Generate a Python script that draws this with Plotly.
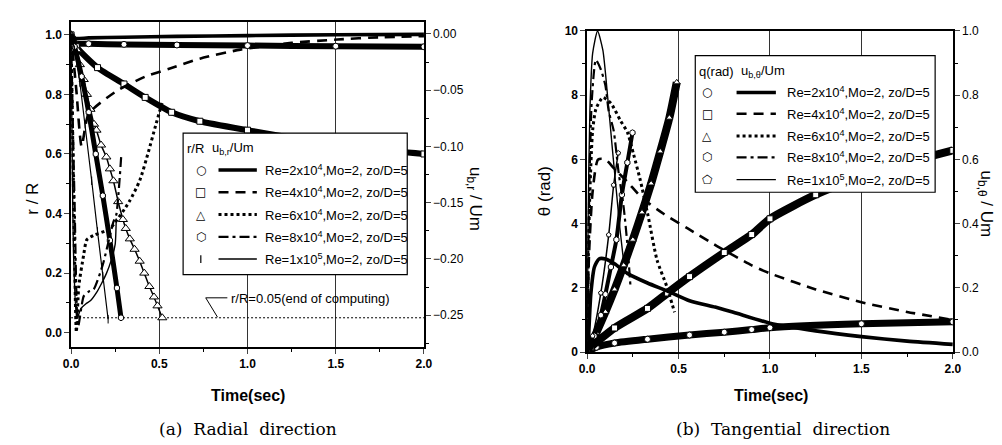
import plotly.graph_objects as go

W, H = 1002, 445

# ---------------- (a) Radial direction: r/R (left axis, markers) ----------------
A_T_RE2 = [0, 0.02, 0.1, 0.3, 0.6, 1.0, 1.5, 2.0]
A_R_RE2 = [1.0, 0.972, 0.97, 0.968, 0.966, 0.964, 0.962, 0.96]
A_T_RE4 = [0, 0.03, 0.15, 0.3, 0.42, 0.57, 0.73, 1.0, 1.25, 1.5, 1.75, 2.0]
A_R_RE4 = [1.0, 0.96, 0.89, 0.835, 0.79, 0.74, 0.71, 0.68, 0.655, 0.635, 0.615, 0.60]
A_T_RE6 = [0, 0.033, 0.05, 0.072, 0.09, 0.11, 0.13, 0.144, 0.17, 0.2, 0.22, 0.24, 0.267,
           0.294, 0.31, 0.333, 0.36, 0.389, 0.415, 0.444, 0.47, 0.49, 0.517]
A_R_RE6 = [1.0, 0.95, 0.9, 0.85, 0.8, 0.75, 0.7, 0.68, 0.63, 0.59, 0.55, 0.51, 0.44,
           0.38, 0.35, 0.315, 0.28, 0.24, 0.2, 0.155, 0.12, 0.09, 0.05]
A_T_RE8 = [0, 0.02, 0.06, 0.1, 0.14, 0.18, 0.22, 0.26, 0.283]
A_R_RE8 = [1.0, 0.96, 0.86, 0.74, 0.6, 0.46, 0.31, 0.15, 0.05]
A_T_RE10 = [0, 0.02, 0.05, 0.08, 0.117, 0.15, 0.18, 0.21]
A_R_RE10 = [1.0, 0.95, 0.84, 0.7, 0.51, 0.34, 0.19, 0.045]

# ---------------- (a) u_b,r / Um (right axis, lines) ----------------
A_UT_RE2 = [0, 0.02, 0.1, 0.3, 0.6, 1.0, 1.5, 2.0]
A_U_RE2 = [0, -0.004, -0.0035, -0.003, -0.0022, -0.0015, -0.0008, -0.0004]
A_UT_RE4 = [0, 0.03, 0.06, 0.1, 0.256, 0.42, 0.556, 0.73, 0.96, 1.25, 1.51, 1.75, 2.0]
A_U_RE4 = [0, -0.05, -0.1, -0.071, -0.051, -0.038, -0.031, -0.022, -0.014, -0.008, -0.005, -0.003, -0.002]
A_UT_RE6 = [0, 0.01, 0.02, 0.03, 0.044, 0.072, 0.089, 0.128, 0.22, 0.33, 0.39, 0.44, 0.48, 0.52]
A_U_RE6 = [0, -0.1, -0.2, -0.265, -0.224, -0.196, -0.183, -0.179, -0.173, -0.149, -0.13, -0.104, -0.081, -0.059]
A_UT_RE8 = [0, 0.02, 0.04, 0.072, 0.1, 0.128, 0.18, 0.24, 0.256, 0.285]
A_U_RE8 = [0, -0.15, -0.26, -0.233, -0.229, -0.227, -0.205, -0.167, -0.161, -0.107]
A_UT_RE10 = [0, 0.015, 0.033, 0.056, 0.083, 0.111, 0.144, 0.172, 0.2, 0.228, 0.25, 0.256]
A_U_RE10 = [0, -0.2, -0.253, -0.244, -0.24, -0.237, -0.23, -0.222, -0.213, -0.201, -0.187, -0.164]

END_T = [0, 2.0]
END_R = [0.05, 0.05]

# ---------------- (b) Tangential direction: theta (left axis, markers) ----------------
B_T_RE2 = [0, 0.05, 0.15, 0.33, 0.56, 0.75, 0.9, 1.0, 1.5, 2.0]
B_TH_RE2 = [0, 0.15, 0.28, 0.4, 0.53, 0.62, 0.7, 0.76, 0.88, 0.94]
B_T_RE4 = [0, 0.02, 0.15, 0.33, 0.44, 0.56, 0.75, 0.9, 1.0, 1.25, 1.5, 1.75, 2.0]
B_TH_RE4 = [0, 0.15, 0.75, 1.36, 1.84, 2.35, 3.1, 3.66, 4.15, 4.9, 5.45, 5.9, 6.28]
B_T_RE6 = [0, 0.05, 0.1, 0.15, 0.2, 0.25, 0.3, 0.35, 0.4, 0.45, 0.49]
B_TH_RE6 = [0, 0.6, 1.25, 1.95, 2.7, 3.5, 4.35, 5.25, 6.25, 7.3, 8.4]
B_T_RE8 = [0, 0.04, 0.075, 0.1, 0.13, 0.16, 0.19, 0.22, 0.248]
B_TH_RE8 = [0, 0.5, 1.15, 1.8, 2.65, 3.5, 4.9, 5.9, 6.83]
B_T_RE10 = [0, 0.03, 0.075, 0.118, 0.145, 0.17]
B_TH_RE10 = [0, 0.5, 1.84, 3.65, 5.2, 6.2]

# ---------------- (b) u_b,theta / Um (right axis, lines) ----------------
B_UT_RE2 = [0, 0.005, 0.02, 0.04, 0.065, 0.1, 0.15, 0.22, 0.33, 0.44, 0.56, 0.7, 0.8, 1.0, 1.25, 1.5, 1.75, 2.0]
B_U_RE2 = [0, 0.02, 0.18, 0.265, 0.29, 0.29, 0.275, 0.245, 0.215, 0.19, 0.16, 0.14, 0.124, 0.09, 0.066, 0.048, 0.034, 0.024]
B_UT_RE4 = [0, 0.01, 0.03, 0.06, 0.1, 0.15, 0.22, 0.3, 0.42, 0.55, 0.71, 0.9, 1.0, 1.25, 1.5, 1.75, 2.0]
B_U_RE4 = [0, 0.3, 0.5, 0.6, 0.6, 0.57, 0.53, 0.48, 0.43, 0.385, 0.33, 0.27, 0.245, 0.195, 0.155, 0.125, 0.1]
B_UT_RE6 = [0, 0.005, 0.015, 0.03, 0.048, 0.086, 0.13, 0.183, 0.22, 0.253, 0.29, 0.333, 0.382, 0.435, 0.478]
B_U_RE6 = [0, 0.25, 0.5, 0.69, 0.757, 0.793, 0.775, 0.72, 0.685, 0.618, 0.537, 0.425, 0.287, 0.205, 0.124]
B_UT_RE8 = [0, 0.01, 0.025, 0.048, 0.075, 0.1, 0.118, 0.145, 0.172, 0.2, 0.22, 0.237]
B_U_RE8 = [0, 0.45, 0.78, 0.91, 0.88, 0.83, 0.75, 0.69, 0.56, 0.45, 0.335, 0.205]
B_UT_RE10 = [0, 0.005, 0.015, 0.03, 0.057, 0.086, 0.113, 0.14, 0.16, 0.18, 0.2]
B_U_RE10 = [0, 0.4, 0.75, 0.93, 1.0, 0.94, 0.79, 0.62, 0.5, 0.38, 0.28]

LABELS = ["Re=2x10<sup>4</sup>,Mo=2, zo/D=5", "Re=4x10<sup>4</sup>,Mo=2, zo/D=5",
          "Re=6x10<sup>4</sup>,Mo=2, zo/D=5", "Re=8x10<sup>4</sup>,Mo=2, zo/D=5",
          "Re=1x10<sup>5</sup>,Mo=2, zo/D=5"]
X_TICKS = [0, 0.5, 1.0, 1.5, 2.0]
A_LEFT_TICKS = [0, 0.2, 0.4, 0.6, 0.8, 1.0]
A_RIGHT_TICKS = [0, -0.05, -0.10, -0.15, -0.20, -0.25]
B_LEFT_TICKS = [0, 2, 4, 6, 8, 10]
B_RIGHT_TICKS = [0, 0.2, 0.4, 0.6, 0.8, 1.0]

FONT = "Arial, Liberation Sans, sans-serif"
LINE_STYLES = [
    dict(width=3.6, dash="solid"),
    dict(width=2.6, dash="10px,7px"),
    dict(width=3.0, dash="3px,3px"),
    dict(width=2.2, dash="10px,4px,3px,4px"),
    dict(width=1.4, dash="solid"),
]

fig = go.Figure()


def band(x, y, xa, ya, symbol, lw=6, size=6):
    fig.add_trace(go.Scatter(
        x=x, y=y, xaxis=xa, yaxis=ya, mode="lines+markers",
        line=dict(color="black", width=lw, shape="spline", smoothing=0.6),
        marker=dict(symbol=symbol, size=size, color="white",
                    line=dict(color="black", width=1)),
        showlegend=False, hoverinfo="skip"))


def ln(x, y, xa, ya, style):
    fig.add_trace(go.Scatter(
        x=x, y=y, xaxis=xa, yaxis=ya, mode="lines",
        line=dict(color="black", width=style["width"], dash=style["dash"],
                  shape="spline", smoothing=0.6),
        showlegend=False, hoverinfo="skip"))


# (a) lines on right axis
for (x, y), st in zip([(A_UT_RE2, A_U_RE2), (A_UT_RE4, A_U_RE4), (A_UT_RE6, A_U_RE6),
                       (A_UT_RE8, A_U_RE8), (A_UT_RE10, A_U_RE10)], LINE_STYLES):
    ln(x, y, "x", "y2", st)
# end-of-computing line
fig.add_trace(go.Scatter(x=END_T, y=END_R, xaxis="x", yaxis="y", mode="lines",
                         line=dict(color="black", width=1, dash="2px,2px"),
                         showlegend=False, hoverinfo="skip"))
# (a) markers on left axis
band(A_T_RE2, A_R_RE2, "x", "y", "circle")
band(A_T_RE4, A_R_RE4, "x", "y", "square")
band(A_T_RE6, A_R_RE6, "x", "y", "triangle-up", lw=1.5, size=8)
band(A_T_RE8, A_R_RE8, "x", "y", "hexagon", lw=5)
fig.add_trace(go.Scatter(x=A_T_RE10, y=A_R_RE10, xaxis="x", yaxis="y", mode="lines+markers",
                         line=dict(color="black", width=1.2),
                         marker=dict(symbol="line-ns-open", size=6, line=dict(color="black", width=1)),
                         showlegend=False, hoverinfo="skip"))

# (b) lines on right axis
for (x, y), st in zip([(B_UT_RE2, B_U_RE2), (B_UT_RE4, B_U_RE4), (B_UT_RE6, B_U_RE6),
                       (B_UT_RE8, B_U_RE8), (B_UT_RE10, B_U_RE10)], LINE_STYLES):
    ln(x, y, "x2", "y4", st)
# (b) markers on left axis
band(B_T_RE2, B_TH_RE2, "x2", "y3", "circle", lw=7)
band(B_T_RE4, B_TH_RE4, "x2", "y3", "square", lw=8)
band(B_T_RE6, B_TH_RE6, "x2", "y3", "triangle-up", lw=8)
band(B_T_RE8, B_TH_RE8, "x2", "y3", "hexagon", lw=4, size=6)
band(B_T_RE10, B_TH_RE10, "x2", "y3", "pentagon", lw=1.5, size=5)


def px(x):
    return x / W


def py(y):
    return 1 - y / H


tickfont = dict(family=FONT, size=12, color="black", weight="bold")
common_x = dict(range=[0, 2], tickvals=X_TICKS, tickformat=".1f", ticks="outside", ticklen=5,
                tickwidth=1.2, showline=True, linecolor="black", linewidth=1.5, mirror=True,
                showgrid=True, gridcolor="#333", gridwidth=0.8, zeroline=False,
                tickfont=tickfont, minor=dict(dtick=0.25, ticks="outside", ticklen=3, tickcolor="black"))

fig.update_layout(
    width=W, height=H, margin=dict(l=0, r=0, t=0, b=0),
    paper_bgcolor="white", plot_bgcolor="white", showlegend=False,
    xaxis=dict(domain=[px(56), px(415)], anchor="y", **common_x),
    yaxis=dict(domain=[py(343), py(7)], anchor="x", range=[-0.0488, 1.0439], tickvals=A_LEFT_TICKS,
               tickformat=".1f", ticks="outside", ticklen=5, tickwidth=1.2, showline=True,
               linecolor="black", linewidth=1.5, showgrid=False, zeroline=False, tickfont=tickfont,
               minor=dict(dtick=0.1, ticks="outside", ticklen=3, tickcolor="black")),
    yaxis2=dict(overlaying="y", anchor="x", side="right", range=[-0.2784, 0.01076],
                tickvals=A_RIGHT_TICKS, tickformat=".2f", ticks="outside", ticklen=5, tickwidth=1.2,
                showline=True, linecolor="black", linewidth=1.5, showgrid=False, zeroline=False,
                tickfont=dict(family=FONT, size=12, color="black"),
                minor=dict(dtick=0.025, ticks="outside", ticklen=3, tickcolor="black")),
    xaxis2=dict(domain=[px(581), px(953)], anchor="y3", **common_x),
    yaxis3=dict(domain=[py(348), py(16.5)], anchor="x2", range=[0, 10], tickvals=B_LEFT_TICKS,
                ticks="outside", ticklen=5, tickwidth=1.2, showline=True, linecolor="black",
                linewidth=1.5, showgrid=False, zeroline=False, tickfont=tickfont,
                minor=dict(dtick=1, ticks="outside", ticklen=3, tickcolor="black")),
    yaxis4=dict(overlaying="y3", anchor="x2", side="right", range=[0, 1], tickvals=B_RIGHT_TICKS,
                tickformat=".1f", ticks="outside", ticklen=5, tickwidth=1.2, showline=True,
                linecolor="black", linewidth=1.5, showgrid=False, zeroline=False,
                tickfont=dict(family=FONT, size=12, color="black"),
                minor=dict(dtick=0.1, ticks="outside", ticklen=3, tickcolor="black")),
)

ann = []
shapes = []


def text(x, y, s, size=13, angle=0, xanchor="center", family=FONT, weight="normal"):
    ann.append(dict(x=px(x), y=py(y), xref="paper", yref="paper", text=s, showarrow=False,
                    xanchor=xanchor, yanchor="middle", textangle=angle,
                    font=dict(family=family, size=size, color="black", weight=weight)))


# axis titles
text(16, 190, "r / R", size=17, angle=-90)
text(466, 190, "u<sub>b,r</sub> / Um", size=17, angle=90)
text(236, 393, "Time(sec)", size=16, weight="bold")
text(537, 182, "θ (rad)", size=17, angle=-90)
text(986, 195, "u<sub>b,θ</sub> / Um", size=17, angle=90)
text(768, 393, "Time(sec)", size=16, weight="bold")
# captions
text(236, 427, "(a)  Radial  direction", size=17, family="DejaVu Serif, Liberation Serif, serif")
text(780, 427, "(b)  Tangential  direction", size=17, family="DejaVu Serif, Liberation Serif, serif")

# end-of-computing note with leader
text(217, 293, "r/R=0.05(end of computing)", size=13, xanchor="left")
shapes.append(dict(type="path", xref="paper", yref="paper",
                   path=f"M {px(215)},{py(292)} L {px(193)},{py(292)} L {px(205)},{py(312)}",
                   line=dict(color="black", width=1)))


def legend(x0, x1, y0, y1, head1, head1x, head2, head2x, heady, rows, symx, lx0, lx1, tx, symbols):
    shapes.append(dict(type="rect", xref="paper", yref="paper", x0=px(x0), x1=px(x1),
                       y0=py(y1), y1=py(y0), line=dict(color="black", width=1.2),
                       fillcolor="white", layer="above"))
    text(head1x, heady, head1, size=13, xanchor="left")
    text(head2x, heady, head2, size=13, xanchor="left")
    for i, (ry, sym) in enumerate(zip(rows, symbols)):
        st = LINE_STYLES[i]
        shapes.append(dict(type="line", xref="paper", yref="paper", x0=px(lx0), x1=px(lx1),
                           y0=py(ry), y1=py(ry),
                           line=dict(color="black", width=st["width"], dash=st["dash"]),
                           layer="above"))
        if sym == "|":
            shapes.append(dict(type="line", xref="paper", yref="paper", x0=px(symx), x1=px(symx),
                               y0=py(ry - 4), y1=py(ry + 4), line=dict(color="black", width=1.2),
                               layer="above"))
        else:
            text(symx, ry, sym, size=12, family="DejaVu Sans, sans-serif")
        text(tx, ry, LABELS[i], size=13, xanchor="left")


legend(170, 398, 122, 268, "r/R", 172, "u<sub>b,r</sub>/Um", 197, 138,
       [160, 183, 206, 229, 252], 188, 206, 245, 251, ["○", "□", "△", "⬡", "|"])
legend(691, 935, 42, 183, "q(rad)", 693, "u<sub>b,θ</sub>/Um", 735, 58,
       [80, 102, 125, 147, 170], 703, 733, 773, 782, ["○", "□", "△", "⬡", "⬠"])

fig.update_layout(annotations=ann, shapes=shapes)
fig.write_html("out.html")
